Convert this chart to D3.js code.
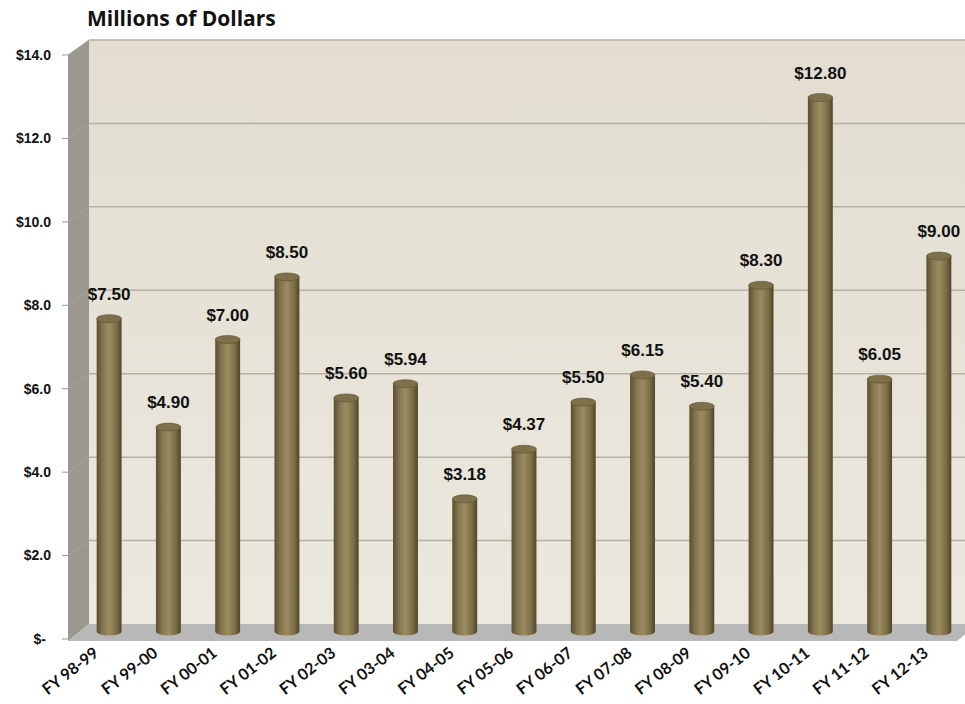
<!DOCTYPE html>
<html>
<head>
<meta charset="utf-8">
<script src="https://cdn.jsdelivr.net/npm/d3@7"></script>
<style>
  body { margin: 0; background: #fff; }
  svg { display: block; }
  .ylab { font-family: "Liberation Sans", Arial, sans-serif; font-weight: bold; font-size: 14px; fill: #111; }
  .vlab { font-family: "Liberation Sans", Arial, sans-serif; font-weight: bold; font-size: 17px; fill: #111; }
  .xlab { font-family: Lato, "Open Sans", sans-serif; font-weight: bold; font-size: 16px; fill: #111; }
  .title { font-family: "Open Sans", Lato, sans-serif; font-weight: bold; font-size: 21px; fill: #111; }
</style>
</head>
<body>
<svg width="965" height="704"></svg>
<script>
var years = ["FY 98-99", "FY 99-00", "FY 00-01", "FY 01-02", "FY 02-03", "FY 03-04", "FY 04-05",
  "FY 05-06", "FY 06-07", "FY 07-08", "FY 08-09", "FY 09-10", "FY 10-11", "FY 11-12", "FY 12-13"];
var amounts = [7.50, 4.90, 7.00, 8.50, 5.60, 5.94, 3.18, 4.37, 5.50, 6.15, 5.40, 8.30, 12.80, 6.05, 9.00];
var amountLabels = ["$7.50", "$4.90", "$7.00", "$8.50", "$5.60", "$5.94", "$3.18", "$4.37", "$5.50",
  "$6.15", "$5.40", "$8.30", "$12.80", "$6.05", "$9.00"];
var yTicks = [0, 2, 4, 6, 8, 10, 12, 14];
var yTickLabels = ["$-", "$2.0", "$4.0", "$6.0", "$8.0", "$10.0", "$12.0", "$14.0"];

var svg = d3.select("svg");

// 3d depth offset of the back wall
var depthX = 21, depthY = -15;

var x = d3.scaleBand()
  .domain(years)
  .range([68, 957])
  .paddingInner(0.58)
  .paddingOuter(0.29);

var y = d3.scaleLinear()
  .domain([0, 14])
  .range([639, 55]);

var defs = svg.append("defs");

var barGrad = defs.append("linearGradient").attr("id", "barGrad");
barGrad.append("stop").attr("offset", "0%").attr("stop-color", "#5a4e2f");
barGrad.append("stop").attr("offset", "25%").attr("stop-color", "#857651");
barGrad.append("stop").attr("offset", "50%").attr("stop-color", "#9c8c60");
barGrad.append("stop").attr("offset", "80%").attr("stop-color", "#7b6c45");
barGrad.append("stop").attr("offset", "100%").attr("stop-color", "#4e4428");

var wallGrad = defs.append("linearGradient").attr("id", "wallGrad")
  .attr("x1", 0).attr("x2", 0).attr("y1", 0).attr("y2", 1);
wallGrad.append("stop").attr("offset", "0%").attr("stop-color", "#e2ddd0");
wallGrad.append("stop").attr("offset", "100%").attr("stop-color", "#ebe8de");

var x0 = x.range()[0], x1 = x.range()[1];
var bx0 = x0 + depthX, bx1 = x1 + depthX;

// back wall
svg.append("rect")
  .attr("x", bx0).attr("y", y(14) + depthY)
  .attr("width", bx1 - bx0).attr("height", y(0) - y(14))
  .attr("fill", "url(#wallGrad)");

// left wall
svg.append("path")
  .attr("d", "M" + x0 + "," + y(14) + " L" + bx0 + "," + (y(14) + depthY) +
    " L" + bx0 + "," + (y(0) + depthY) + " L" + x0 + "," + (y(0) + 2) + "Z")
  .attr("fill", "#9b988f");

// floor
svg.append("path")
  .attr("d", "M" + x0 + "," + (y(0) + 2) + " L" + bx0 + "," + (y(0) + depthY) +
    " L" + bx1 + "," + (y(0) + depthY) + " L" + x1 + "," + (y(0) + 2) + "Z")
  .attr("fill", "#b8b8b8");

// gridlines on back wall and left wall
yTicks.slice(1).forEach(function(v) {
  svg.append("line")
    .attr("x1", bx0).attr("x2", bx1)
    .attr("y1", y(v) + depthY).attr("y2", y(v) + depthY)
    .attr("stroke", "#b5b1a5").attr("stroke-width", 1.5);
  svg.append("line")
    .attr("x1", x0).attr("x2", bx0)
    .attr("y1", y(v)).attr("y2", y(v) + depthY)
    .attr("stroke", "#a9a69d").attr("stroke-width", 1);
});

// y axis ticks + labels
var yAxis = svg.append("g");
yTicks.forEach(function(v, i) {
  yAxis.append("line")
    .attr("x1", x0 - 6).attr("x2", x0)
    .attr("y1", y(v)).attr("y2", y(v))
    .attr("stroke", "#999");
  yAxis.append("text")
    .attr("class", "ylab")
    .attr("x", i == 0 ? 46 : 51).attr("y", y(v))
    .attr("dy", "0.35em")
    .attr("text-anchor", "end")
    .text(yTickLabels[i]);
});

// bars as cylinders
var bw = x.bandwidth();
var ry = 4;
var bars = svg.append("g").selectAll("g")
  .data(years)
  .enter().append("g")
  .attr("transform", function(d) { return "translate(" + (x(d) + depthX / 2 + 1) + "," + (depthY / 2) + ")"; });

bars.append("path")
  .attr("d", function(d, i) {
    var top = y(amounts[i]), bot = y(0);
    return "M0," + top + " L0," + bot + " A" + (bw / 2) + "," + ry + " 0 0 0 " + bw + "," + bot +
      " L" + bw + "," + top + "Z";
  })
  .attr("fill", "url(#barGrad)");

bars.append("ellipse")
  .attr("cx", bw / 2)
  .attr("cy", function(d, i) { return y(amounts[i]); })
  .attr("rx", bw / 2).attr("ry", ry)
  .attr("fill", "#7e704a")
  .attr("stroke", "#5e532f").attr("stroke-width", 0.6);

bars.append("text")
  .attr("class", "vlab")
  .attr("x", bw / 2)
  .attr("y", function(d, i) { return y(amounts[i]) - 19; })
  .attr("text-anchor", "middle")
  .text(function(d, i) { return amountLabels[i]; });

// x labels, rotated
svg.append("g").selectAll("text")
  .data(years)
  .enter().append("text")
  .attr("class", "xlab")
  .attr("text-anchor", "end")
  .attr("transform", function(d) {
    return "translate(" + (x(d) + bw / 2 + 2) + "," + 655 + ") rotate(-38)";
  })
  .text(function(d) { return d; });

svg.append("text")
  .attr("class", "title")
  .attr("x", 87).attr("y", 26)
  .text("Millions of Dollars");
</script>
</body>
</html>
